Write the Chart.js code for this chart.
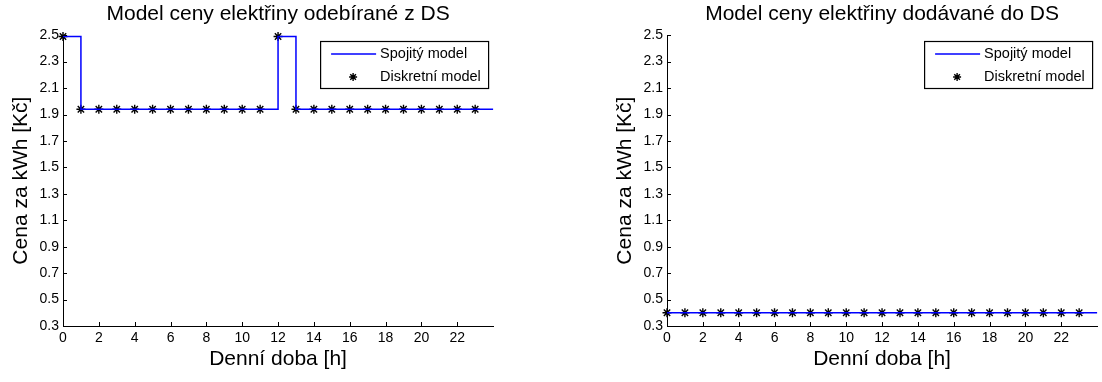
<!DOCTYPE html>
<html>
<head>
<meta charset="utf-8">
<script src="https://cdn.jsdelivr.net/npm/chart.js@4/dist/chart.umd.min.js"></script>
<style>
  html, body { margin: 0; padding: 0; background: #fff; overflow: hidden; }
  #wrap { position: relative; width: 1102px; height: 382px; }
  .cv { position: absolute; top: 0; }
</style>
</head>
<body>
<div id="wrap">
  <canvas id="c1" class="cv" width="499" height="382" style="left:0px;width:499px;height:382px"></canvas>
  <canvas id="c2" class="cv" width="499" height="382" style="left:604px;width:499px;height:382px"></canvas>
</div>
<script>
// ---- data ----
const hours = [0,1,2,3,4,5,6,7,8,9,10,11,12,13,14,15,16,17,18,19,20,21,22,23];
const dayEnd = 24;
const buyPrices  = [2.49,1.94,1.94,1.94,1.94,1.94,1.94,1.94,1.94,1.94,1.94,1.94,
                    2.49,1.94,1.94,1.94,1.94,1.94,1.94,1.94,1.94,1.94,1.94,1.94];
const sellPrices = [0.40,0.40,0.40,0.40,0.40,0.40,0.40,0.40,0.40,0.40,0.40,0.40,
                    0.40,0.40,0.40,0.40,0.40,0.40,0.40,0.40,0.40,0.40,0.40,0.40];
const xTickLabels = [0,2,4,6,8,10,12,14,16,18,20,22];
const yTickLabels = [0.3,0.5,0.7,0.9,1.1,1.3,1.5,1.7,1.9,2.1,2.3,2.5];
const titles = ['Model ceny elektřiny odebírané z DS', 'Model ceny elektřiny dodávané do DS'];
const seriesNames = ['Spojitý model', 'Diskretní model'];
const xTitle = 'Denní doba [h]';
const yTitle = 'Cena za kWh [Kč]';

const FONT = "'Liberation Sans', Arial, Helvetica, sans-serif";

// inward tick marks (MATLAB style)
const inwardTicks = {
  id: 'inwardTicks',
  afterDatasetsDraw(chart) {
    const ctx = chart.ctx, a = chart.chartArea;
    const xs = chart.scales.x, ys = chart.scales.y;
    ctx.save();
    ctx.strokeStyle = '#000';
    ctx.lineWidth = 1;
    ctx.beginPath();
    xs.ticks.forEach(t => {
      const px = Math.round(xs.getPixelForValue(t.value)) + 0.5;
      ctx.moveTo(px, a.bottom);
      ctx.lineTo(px, a.bottom - 4);
    });
    ys.ticks.forEach(t => {
      const py = Math.round(ys.getPixelForValue(t.value)) + 0.5;
      ctx.moveTo(a.left, py);
      ctx.lineTo(a.left + 4, py);
    });
    ctx.stroke();
    ctx.restore();
  }
};

// boxed legend (MATLAB style)
const boxedLegend = {
  id: 'boxedLegend',
  afterDraw(chart) {
    const ctx = chart.ctx, a = chart.chartArea;
    const ds = chart.data.datasets;
    const w = 168, h = 47;
    const x0 = a.right - 5 - w, y0 = 41;
    ctx.save();
    ctx.fillStyle = '#fff';
    ctx.fillRect(x0, y0, w, h);
    ctx.strokeStyle = '#000';
    ctx.lineWidth = 1.2;
    ctx.strokeRect(x0 + 0.5, y0 + 0.5, w, h);
    // row 1: line
    ctx.strokeStyle = ds[0].borderColor;
    ctx.lineWidth = 1.5;
    ctx.beginPath();
    ctx.moveTo(x0 + 11, y0 + 13);
    ctx.lineTo(x0 + 56, y0 + 13);
    ctx.stroke();
    // row 2: star marker
    const sx = x0 + 33, sy = y0 + 36, r = 4;
    ctx.strokeStyle = '#000';
    ctx.lineWidth = 1.4;
    ctx.beginPath();
    ctx.moveTo(sx - r, sy); ctx.lineTo(sx + r, sy);
    ctx.moveTo(sx, sy - r); ctx.lineTo(sx, sy + r);
    const d = r * Math.SQRT1_2;
    ctx.moveTo(sx - d, sy - d); ctx.lineTo(sx + d, sy + d);
    ctx.moveTo(sx - d, sy + d); ctx.lineTo(sx + d, sy - d);
    ctx.stroke();
    ctx.fillStyle = '#000';
    ctx.font = '14.5px ' + FONT;
    ctx.textBaseline = 'middle';
    ctx.textAlign = 'left';
    ctx.fillText(ds[0].label, x0 + 60, y0 + 13);
    ctx.fillText(ds[1].label, x0 + 60, y0 + 36);
    ctx.restore();
  }
};

function makeChart(id, title, prices) {
  const linePts = hours.map((h, i) => ({x: h, y: prices[i]}));
  linePts.push({x: dayEnd, y: prices[prices.length - 1]});
  const dots = hours.map((h, i) => ({x: h, y: prices[i]}));
  return new Chart(document.getElementById(id), {
    type: 'line',
    data: {
      datasets: [
        {
          label: seriesNames[0],
          data: linePts,
          stepped: 'before',
          borderColor: '#0000ff',
          borderWidth: 1.5,
          pointRadius: 0,
          fill: false,
          clip: false
        },
        {
          label: seriesNames[1],
          data: dots,
          showLine: false,
          pointStyle: 'star',
          pointRadius: 4.5,
          pointBorderWidth: 1.4,
          borderColor: '#000',
          backgroundColor: '#000',
          clip: false
        }
      ]
    },
    options: {
      responsive: false,
      animation: false,
      devicePixelRatio: 1,
      layout: { padding: { left: 5, right: 1, top: 0, bottom: 0 } },
      plugins: {
        legend: { display: false },
        tooltip: { enabled: false },
        title: {
          display: true,
          text: title,
          fullSize: false,
          color: '#000',
          font: { family: FONT, size: 21, weight: 'normal' },
          padding: { top: 2, bottom: 8 }
        }
      },
      scales: {
        x: {
          type: 'linear',
          min: 0,
          max: dayEnd,
          afterBuildTicks: (s) => { s.ticks = xTickLabels.map(v => ({value: v})); },
          afterFit: (s) => { s.height = 56; },
          ticks: {
            color: '#000',
            padding: 4,
            maxRotation: 0,
            autoSkip: false,
            font: { family: FONT, size: 14 },
            callback: (v) => String(v)
          },
          grid: { drawOnChartArea: false, drawTicks: false },
          border: { display: true, color: '#000', width: 1 },
          title: {
            display: true,
            text: xTitle,
            color: '#000',
            font: { family: FONT, size: 21 },
            padding: { top: 0, bottom: 10 }
          }
        },
        y: {
          type: 'linear',
          min: 0.3,
          max: 2.5,
          afterBuildTicks: (s) => { s.ticks = yTickLabels.map(v => ({value: v})); },
          afterFit: (s) => { s.width = 58; },
          ticks: {
            color: '#000',
            padding: 4,
            autoSkip: false,
            font: { family: FONT, size: 14 },
            callback: (v) => Number(v).toFixed(1)
          },
          grid: { drawOnChartArea: false, drawTicks: false },
          border: { display: true, color: '#000', width: 1 },
          title: {
            display: true,
            text: yTitle,
            color: '#000',
            font: { family: FONT, size: 21 },
            padding: { top: 4, bottom: 4 }
          }
        }
      }
    },
    plugins: [inwardTicks, boxedLegend]
  });
}

makeChart('c1', titles[0], buyPrices);
makeChart('c2', titles[1], sellPrices);
</script>
</body>
</html>
